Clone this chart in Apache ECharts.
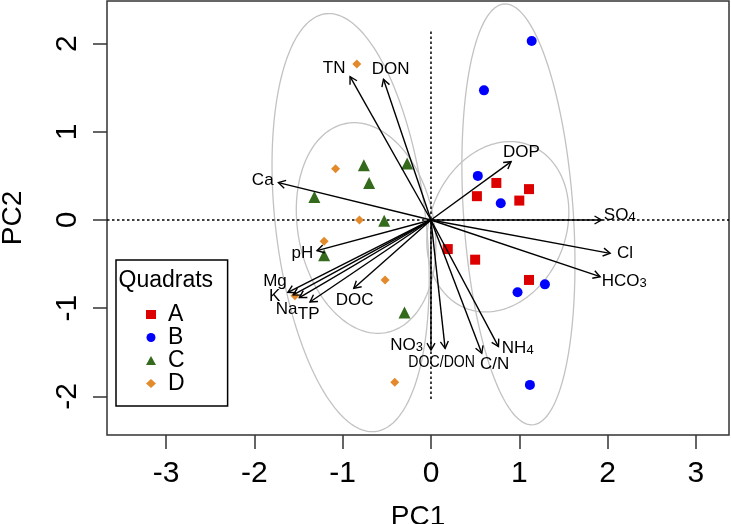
<!DOCTYPE html>
<html><head><meta charset="utf-8">
<script src="https://cdn.jsdelivr.net/npm/echarts@6/dist/echarts.min.js"></script>
<style>html,body{margin:0;padding:0;background:#fff}#c{width:731px;height:524px}</style>
</head><body><div id="c"></div>
<script>
// ---------- data ----------
const xTicks = [-3, -2, -1, 0, 1, 2, 3];
const yTicks = [-2, -1, 0, 1, 2];
const xRange = [-3.668, 3.374];
const yRange = [-2.438, 2.483];
const groupNames = ['A', 'B', 'C', 'D'];
const groupA = [[0.52,0.27],[0.74,0.42],[1.00,0.22],[1.11,0.35],[0.19,-0.33],[0.50,-0.45],[1.11,-0.68]];
const groupB = [[1.14,2.03],[0.60,1.47],[0.53,0.50],[0.79,0.19],[0.98,-0.82],[1.29,-0.73],[1.12,-1.87]];
const groupC = [[-0.76,0.62],[-0.70,0.42],[-0.27,0.64],[-1.32,0.26],[-0.53,-0.01],[-1.21,-0.40],[-0.30,-1.05]];
const groupD = [[-0.84,1.77],[-1.08,0.58],[-0.81,0.00],[-1.21,-0.24],[-1.54,-0.86],[-0.52,-0.68],[-0.41,-1.84]];
// ellipses: [centerX, centerY, semiMajor, semiMinor, tiltDeg (top leaning left > 0)]
const ellipseA = [0.757, -0.077, 0.993, 0.770, -21.6];
const ellipseB = [0.990, 0.063, 2.392, 0.621, 3.86];
const ellipseC = [-0.735, -0.091, 1.207, 0.770, 10.95];
const ellipseD = [-0.910, -0.030, 2.385, 0.850, 6.77];
// loadings (arrow tips) and label positions
const variables = ['TN','DON','Ca','DOP','SO4','Cl','HCO3','pH','Mg','K','Na','TP','DOC','NO3','DOC/DON','C/N','NH4'];
const loadX = [-0.916,-0.538,-1.727, 0.907, 1.930, 2.028, 1.915,-1.290,-1.620,-1.560,-1.490,-1.370,-0.874, 0.000, 0.160, 0.575, 0.764];
const loadY = [ 1.625, 1.595, 0.423, 0.661, 0.000,-0.378,-0.643,-0.348,-0.820,-0.850,-0.880,-0.930,-0.775,-1.474,-1.455,-1.511,-1.436];
const labelX = [-1.097,-0.456,-1.905, 1.023, 2.137, 2.196, 2.187,-1.456,-1.766,-1.770,-1.634,-1.385,-0.864,-0.275, 0.121, 0.721, 0.982];
const labelY = [ 1.720, 1.709, 0.454, 0.768, 0.057,-0.378,-0.692,-0.378,-0.692,-0.862,-1.015,-1.066,-0.907,-1.417,-1.610,-1.638,-1.451];
const refH = [[-3.668, 0], [3.374, 0]];
const refV = [[0, -2.03], [0, 2.15]];

// ---------- styling ----------
const FONT = 'Liberation Sans, Arial, Helvetica, sans-serif';
const colors = {A:'#dd0000', B:'#0000ff', C:'#336a1c', D:'#e38b2c'};
const symbols = {A:'rect', B:'circle', C:'triangle', D:'diamond'};
const sizes = {A:10, B:10, C:12, D:9};
const groupData = {A:groupA, B:groupB, C:groupC, D:groupD};
const ellipses = [ellipseA, ellipseB, ellipseC, ellipseD];

function ellipsePoints(e) {
  const [cx, cy, a, b, deg] = e;
  const th = deg * Math.PI / 180;
  const pts = [];
  for (let i = 0; i <= 180; i++) {
    const t = i / 180 * 2 * Math.PI;
    const ct = Math.cos(t), st = Math.sin(t);
    pts.push([cx - a * ct * Math.sin(th) + b * st * Math.cos(th),
              cy + a * ct * Math.cos(th) + b * st * Math.sin(th)]);
  }
  return pts;
}
function labelText(name) {
  const m = name.match(/^([A-Za-z]+)(\d)$/);
  if (m) return '{m|' + m[1] + '}{s|' + m[2] + '}';
  return '{m|' + name + '}';
}

const series = [];
ellipses.forEach((e) => {
  series.push({type:'line', data: ellipsePoints(e), showSymbol:false, silent:true,
    lineStyle:{color:'#c2c2c2', width:1.3}, z:1});
});
series.push({type:'line', data: refH, showSymbol:false, silent:true,
  lineStyle:{color:'#000', width:1.5, type:[2.5,2.5]}, z:2});
series.push({type:'line', data: refV, showSymbol:false, silent:true,
  lineStyle:{color:'#000', width:1.5, type:[2.5,2.5]}, z:2});
groupNames.forEach(g => {
  series.push({type:'scatter', name:g, data: groupData[g], symbol: symbols[g], symbolSize: sizes[g],
    itemStyle:{color: colors[g], opacity:1}, z:3});
});
const arrowData = variables.map((v, i) => [loadX[i], loadY[i], labelX[i], labelY[i]]);
series.push({
  type:'custom', data: arrowData, z:4, silent:true,
  renderItem: function (params, api) {
    const o = api.coord([0, 0]);
    const t = api.coord([api.value(0), api.value(1)]);
    const l = api.coord([api.value(2), api.value(3)]);
    const ang = Math.atan2(t[1] - o[1], t[0] - o[0]);
    const L = 8, A = Math.PI / 6;
    const h1 = [t[0] - L * Math.cos(ang - A), t[1] - L * Math.sin(ang - A)];
    const h2 = [t[0] - L * Math.cos(ang + A), t[1] - L * Math.sin(ang + A)];
    const name = variables[params.dataIndex];
    return {type:'group', children:[
      {type:'polyline', shape:{points:[o, t]}, style:{stroke:'#000', lineWidth:1.4, fill:null}},
      {type:'polyline', shape:{points:[h1, t, h2]}, style:{stroke:'#000', lineWidth:1.4, fill:null}},
      {type:'text', x:l[0], y:l[1], scaleX: name === 'DOC/DON' ? 0.83 : 1, style:{
        text: labelText(name), align:'center', verticalAlign:'middle',
        rich:{m:{fontSize:17, fontFamily:FONT, fill:'#000', verticalAlign:'bottom'},
              s:{fontSize:13, fontFamily:FONT, fill:'#000', verticalAlign:'bottom'}}
      }}
    ]};
  }
});

const chart = echarts.init(document.getElementById('c'), null, {renderer:'canvas'});
chart.setOption({
  animation:false,
  backgroundColor:'#fff',
  grid:{left:107, right:2, top:1, bottom:89, show:true, borderColor:'#333', borderWidth:1.5,
    containLabel:false, outerBoundsMode:'none'},
  xAxis:{type:'value', min:xRange[0], max:xRange[1],
    splitLine:{show:false}, axisLine:{show:false, onZero:false},
    axisTick:{show:true, length:14, customValues:xTicks, lineStyle:{color:'#333', width:1.5}},
    axisLabel:{customValues:xTicks, fontSize:30, color:'#000', fontFamily:FONT, margin:24},
    name:'PC1', nameLocation:'middle', nameGap:68,
    nameTextStyle:{fontSize:28, color:'#000', fontFamily:FONT}},
  yAxis:{type:'value', min:yRange[0], max:yRange[1],
    splitLine:{show:false}, axisLine:{show:false, onZero:false},
    axisTick:{show:true, length:14, customValues:yTicks, lineStyle:{color:'#333', width:1.5}},
    axisLabel:{customValues:yTicks, fontSize:30, color:'#000', fontFamily:FONT, margin:24, rotate:90},
    name:'PC2', nameLocation:'middle', nameGap:80, nameRotate:90,
    nameTextStyle:{fontSize:28, color:'#000', fontFamily:FONT}},
  legend:{show:true, data:groupNames, orient:'vertical', left:116, top:260,
    padding:[43, 43, 11, 30], itemGap:0, itemWidth:10, itemHeight:9,
    borderColor:'#000', borderWidth:1.5, backgroundColor:'#fff', selectedMode:false,
    textStyle:{fontSize:23, lineHeight:21, color:'#000', fontFamily:FONT, padding:[0,0,0,7]}, z:10},
  graphic:[{type:'text', x:118.5, y:281, z:20,
    style:{text:'Quadrats', font:'23px ' + FONT, fill:'#000', align:'left', verticalAlign:'middle'}}],
  series: series
});
</script>
</body></html>
